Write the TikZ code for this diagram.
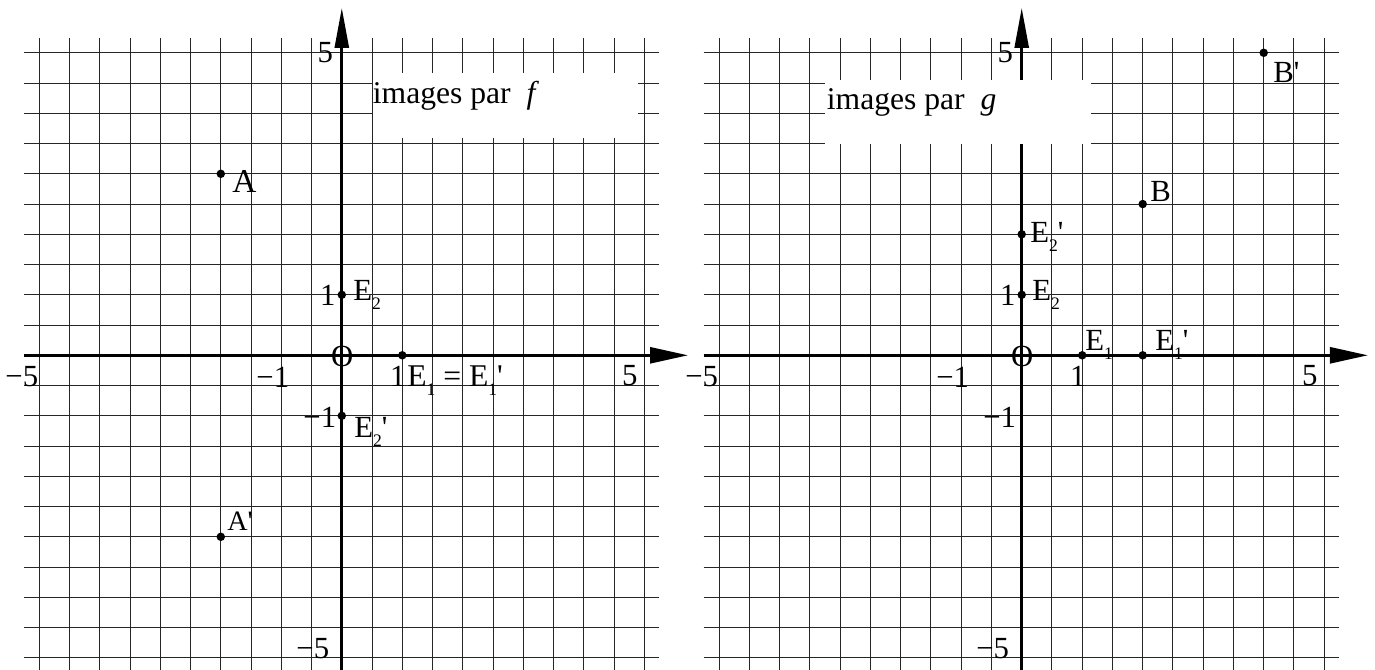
\documentclass[tikz,border=0pt]{standalone}
\usepackage{fontspec}
\setmainfont{Liberation Serif}
\usetikzlibrary{arrows.meta}
\newcommand{\lowsub}[1]{\raisebox{-0.3em}{\fontsize{10}{10}\selectfont #1}}
\begin{document}
\begin{tikzpicture}[x=0.02cm,y=-0.02cm,
  gridline/.style={black!85, line width=0.6pt},
  axisline/.style={black, line width=1.5pt},
  xarrow/.style={-{Triangle[length=0.76cm,width=0.32cm]}},
  yarrow/.style={-{Triangle[length=0.8cm,width=0.28cm]}},
  dot/.style={circle, fill=black, inner sep=0pt, minimum size=0.17cm},
  lbl/.style={inner sep=0pt, anchor=base west, font=\fontsize{17.5}{20}\selectfont},
  num/.style={inner sep=0pt, anchor=center, font=\fontsize{17.5}{20}\selectfont},
  cover/.style={fill=white, draw=none}]
\useasboundingbox (0,0) rectangle (1375,669);

\foreach \ox/\gn in {341.8/L,1021.7/R}{
  \foreach \k in {-10,...,10}{
    \draw[gridline] ({\ox+30.25*\k},38) -- ({\ox+30.25*\k},675);
    \draw[gridline] ({\ox-318},{355.3+30.25*\k}) -- ({\ox+317.5},{355.3+30.25*\k});
  }
  \coordinate (xs\gn) at ({\ox-318},355.3);
  \coordinate (xe\gn) at ({\ox+346.2},355.3);
  \coordinate (ys\gn) at (\ox,675);
  \coordinate (ye\gn) at (\ox,8);
  \draw[axisline,xarrow] (xs\gn) -- (xe\gn);
  \draw[axisline,yarrow] (ys\gn) -- (ye\gn);
}

% white label boxes
\fill[cover] (372.5,73) rectangle (638,138);
\fill[cover] (825,80) rectangle (1091,143.6);

\foreach \ox/\gn in {341.8/L,1021.7/R}{
  \node[num] (y5\gn)  at ({\ox-16.5},52.8) {5};
  \node[num] (xm5\gn) at ({\ox-320},377) {−5};
  \node[num] (xm1\gn) at ({\ox-69},377.5) {−1};
  \node[num] (x1\gn)  at ({\ox+56},376) {1};
  \node[num] (x5\gn)  at ({\ox+288},376) {5};
  \node[num] (y1\gn)  at ({\ox-14},295.5) {1};
  \node[num] (ym1\gn) at ({\ox-22},417) {−1};
  \node[num] (ym5\gn) at ({\ox-29},649) {−5};
  \node[num] (O\gn)   at ({\ox+0.5},356) {O};
}

% left graph: images par f
\node[lbl, font=\fontsize{18}{21}\selectfont] (titleL) at (372.5,103.3) {images par\ \ \textit{f}};
\node[dot] (A) at (220.8,173.8) {};
\node[lbl, font=\fontsize{19}{22}\selectfont] (Alab) at (232,192) {A};
\node[dot] (Ap) at (220.8,536.8) {};
\node[lbl, font=\fontsize{16}{18}\selectfont] (Aplab) at (227,530) {A\textquotesingle};
\node[dot] (E2L) at (341.8,294.8) {};
\node[lbl] (E2Llab) at (353,300) {E\lowsub{2}};
\node[dot] (E2pL) at (341.8,415.8) {};
\node[lbl] (E2pLlab) at (354,437) {E\lowsub{2}\textquotesingle};
\node[dot] (E1L) at (402.3,355.3) {};
\node[lbl, font=\fontsize{18}{21}\selectfont] (E1Llab) at (407,386) {E\lowsub{1} = E\lowsub{1}\textquotesingle};

% right graph: images par g
\node[lbl, font=\fontsize{18}{21}\selectfont] (titleR) at (826.5,110) {images par\ \ \textit{g}};
\node[dot] (E1R) at (1082.2,355.3) {};
\node[lbl] (E1Rlab) at (1085,350) {E\lowsub{1}};
\node[dot] (E1pR) at (1142.7,355.3) {};
\node[lbl] (E1pRlab) at (1155,350) {E\lowsub{1}\textquotesingle};
\node[dot] (E2R) at (1021.7,294.8) {};
\node[lbl] (E2Rlab) at (1032,300) {E\lowsub{2}};
\node[dot] (E2pR) at (1021.7,234.3) {};
\node[lbl] (E2pRlab) at (1030,242) {E\lowsub{2}\textquotesingle};
\node[dot] (B) at (1142.7,204.05) {};
\node[lbl] (Blab) at (1150,201) {B};
\node[dot] (Bp) at (1263.7,52.8) {};
\node[lbl] (Bplab) at (1273,83) {B\textquotesingle};
\end{tikzpicture}
\end{document}
